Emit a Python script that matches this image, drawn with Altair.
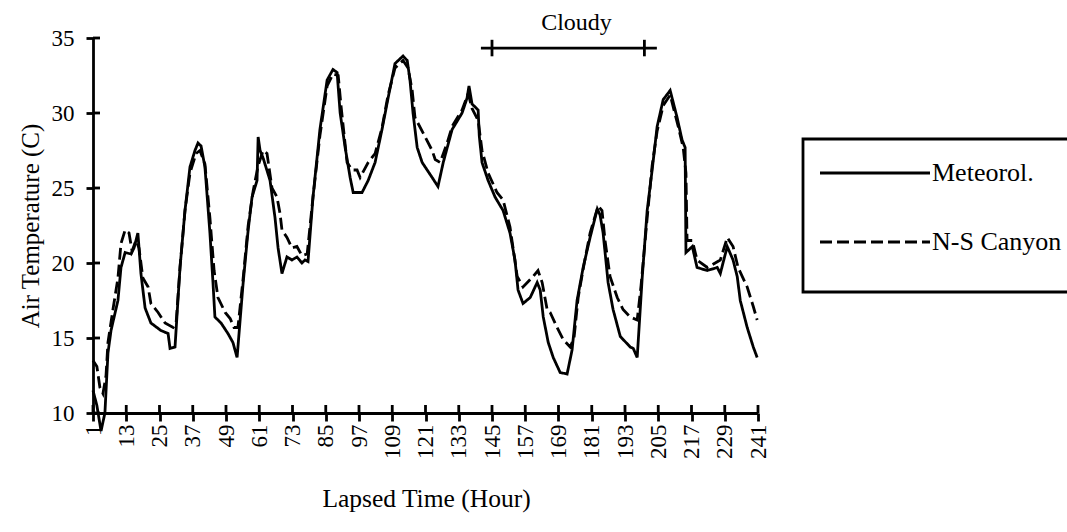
import altair as alt
import pandas as pd

# Series names
series_names = ["Meteorol.", "N-S Canyon"]

# Meteorological station air temperature (C) by lapsed hour
met_hours = [1, 2.4, 3.9, 5.3, 6.4, 7.5, 10, 11.1, 12.6, 14.7,
             15.8, 17.2, 18.3, 19.8, 21.9, 25.5, 28.1, 28.8, 30.6, 32.4,
             34.2, 36, 37.8, 38.9, 40, 41.4, 43.2, 44.3, 45, 47.2,
             49.7, 51.5, 53, 55.2, 57, 58.4, 60.2, 60.6, 61.3, 62.4,
             64.9, 66.7, 67.8, 69.2, 71, 72.8, 74.6, 76.4, 77.5, 78.6,
             80.4, 82.9, 85.5, 87.6, 89.1, 90.2, 92, 93.8, 94.9, 98.1,
             100.3, 102.8, 105.3, 107.5, 110, 112.9, 114.4, 115.4, 116.5, 118,
             119.8, 123.4, 125.5, 127.4, 130.6, 134.2, 136, 136.7, 137.8, 140,
             140.4, 141.4, 143.6, 146.1, 149, 151.5, 153.3, 154.4, 156.2, 158.8,
             161.3, 162.4, 163.5, 165.3, 167.1, 169.6, 172.1, 173.9, 175.7, 177.9,
             180.4, 183, 184, 185.1, 186.9, 188.7, 191.3, 194.9, 196, 197.4,
             199.2, 201, 202.8, 204.6, 206.8, 209.3, 211.8, 213.6, 214.7, 215,
             217.3, 219, 222.7, 226.3, 227.4, 229.9, 232, 233.5, 234.6, 237.1,
             239.3, 240.7]
met_temp = [11.5, 10.5, 8.8, 10.0, 14.0, 15.5, 17.5, 19.7, 20.7, 20.6,
            21.0, 22.0, 19.3, 17.0, 16.0, 15.5, 15.3, 14.3, 14.4, 19.7,
            23.5, 26.4, 27.5, 28.0, 27.8, 26.4, 22.0, 18.7, 16.4, 16.0,
            15.3, 14.7, 13.7, 18.7, 22.2, 24.4, 25.5, 28.4, 27.5, 27.0,
            25.5, 23.0, 21.0, 19.3, 20.4, 20.2, 20.4, 20.0, 20.2, 20.1,
            24.4, 28.9, 32.2, 32.9, 32.7, 30.0, 27.7, 25.7, 24.7, 24.7,
            25.5, 26.7, 28.9, 31.0, 33.3, 33.8, 33.5, 32.2, 30.0, 27.7,
            26.7, 25.7, 25.1, 26.7, 28.9, 30.0, 31.0, 31.8, 30.6, 30.2,
            28.5, 26.7, 25.5, 24.4, 23.5, 22.0, 20.2, 18.2, 17.3, 17.7,
            18.7, 18.2, 16.4, 14.7, 13.7, 12.7, 12.6, 14.2, 17.5, 19.7,
            21.7, 23.6, 23.2, 22.0, 18.7, 16.9, 15.1, 14.4, 14.3, 13.7,
            19.0, 23.5, 26.2, 29.1, 30.9, 31.5, 29.7, 28.2, 27.7, 20.7,
            21.1, 19.7, 19.5, 19.7, 19.3, 21.1, 20.2, 19.1, 17.5, 15.7,
            14.4, 13.7]

# N-S canyon air temperature (C) by lapsed hour
ns_hours = [1, 2.4, 3.5, 4.6, 5.7, 6.4, 8.2, 10, 11.1, 12.6,
            14, 15.1, 16.5, 17.6, 19, 20.9, 21.9, 24.5, 27, 29.9,
            31, 32.4, 34.2, 36, 38.2, 39.6, 41.4, 43.2, 44.7, 46.1,
            48.7, 50.5, 51.9, 53.3, 55.2, 57, 58.8, 60.6, 62.4, 63.8,
            65.6, 67.4, 68.5, 69.2, 71, 72.8, 74.6, 76.4, 78.3, 80.4,
            82.9, 85.5, 87.6, 89.5, 90.5, 92.7, 94.5, 96.3, 97.4, 100.3,
            102.8, 105.3, 107.5, 110, 112.9, 114.7, 116.2, 117.2, 120.9, 123.4,
            124.5, 126.3, 128.8, 130.6, 134.2, 136.4, 137.8, 140, 141.4, 143.6,
            146.8, 149, 151.5, 154.1, 156.2, 159.8, 161.6, 163.1, 164.9, 166,
            168.5, 170.7, 173.2, 174.6, 176.1, 178.3, 180.4, 183.3, 184.7, 185.8,
            187.6, 190.2, 192.3, 194.9, 197.4, 198.8, 201, 202.8, 204.6, 206.8,
            209.3, 212.2, 214, 215, 215.4, 217.3, 219, 222.7, 227.4, 229.9,
            232, 233.8, 237.1, 239.3, 240.7]
ns_temp = [13.5, 13.1, 11.7, 11.3, 12.5, 14.7, 16.9, 19.0, 21.3, 22.2,
           22.0, 20.8, 21.5, 21.0, 19.0, 18.4, 17.3, 16.7, 16.0, 15.7,
           16.0, 19.7, 23.5, 26.0, 27.3, 27.5, 26.6, 23.0, 19.5, 17.7,
           16.7, 16.3, 15.7, 15.7, 19.0, 22.5, 24.8, 26.5, 27.5, 27.3,
           25.0, 24.4, 23.3, 22.2, 21.7, 21.0, 21.1, 20.5, 20.6, 24.4,
           28.5, 31.8, 32.6, 32.5, 30.5, 26.7, 26.2, 26.2, 25.7, 26.7,
           27.3, 29.0, 31.2, 33.0, 33.5, 33.0, 31.5, 29.7, 28.4, 27.5,
           26.9, 26.7, 28.0, 29.1, 30.2, 31.3, 30.3, 29.5, 27.5, 26.0,
           24.7, 24.2, 22.4, 19.1, 18.4, 19.1, 19.5, 18.7, 16.9, 16.7,
           15.7, 14.9, 14.4, 15.0, 17.7, 20.0, 22.0, 23.8, 23.5, 21.5,
           19.1, 17.7, 16.9, 16.4, 16.2, 18.5, 23.0, 26.5, 28.8, 30.5,
           31.2, 29.1, 27.7, 26.0, 21.5, 21.5, 20.2, 19.7, 20.2, 21.7,
           21.1, 19.7, 18.4, 17.1, 16.2]

# Axis tick values
x_ticks = list(range(1, 242, 12))
y_ticks = [10, 15, 20, 25, 30, 35]

# Cloudy period marker (hours)
cloudy_label = "Cloudy"
cloudy_ticks = [145, 200]
cloudy_bar = [141, 204.5]
cloudy_level = 34.33

FONT = "Liberation Serif"
W, H = 665, 375
LW = 2.8

df = pd.concat([
    pd.DataFrame({"hour": met_hours, "temp": met_temp, "series": series_names[0]}),
    pd.DataFrame({"hour": ns_hours, "temp": ns_temp, "series": series_names[1]}),
])

x_scale = alt.Scale(domain=[1, 241], nice=False, zero=False)
y_scale = alt.Scale(domain=[10, 35], nice=False, zero=False)
dash_scale = alt.Scale(domain=series_names, range=[[1, 0], [12, 5]])

x_axis = alt.Axis(
    values=x_ticks, title="Lapsed Time (Hour)", labelAngle=270,
    labelAlign="right", labelBaseline="middle", labelPadding=3,
    tickSize=8, labelOverlap=False, labelFlush=False,
    labelFont=FONT, titleFont=FONT, titleFontSize=25.5,
    titleX=333, titleY=85, titleAlign="center", titleBaseline="middle")
y_axis = alt.Axis(
    values=y_ticks, title="Air Temperature (C)", labelPadding=12,
    tickSize=7, labelFlush=False,
    labelFont=FONT, titleFont=FONT, titleFontSize=25,
    titleAngle=270, titleX=-63, titleY=H / 2,
    titleAlign="center", titleBaseline="middle")

lines = alt.Chart(df).mark_line(color="black", strokeWidth=LW, clip=False).encode(
    x=alt.X("hour:Q", scale=x_scale, axis=x_axis),
    y=alt.Y("temp:Q", scale=y_scale, axis=y_axis),
    strokeDash=alt.StrokeDash("series:N", scale=dash_scale, legend=None),
    detail="series:N",
)

# inner halves of the crossing tick marks
x_tick_in = alt.Chart(pd.DataFrame({"hour": x_ticks})).mark_rule(
    color="black", strokeWidth=LW).encode(
    x=alt.X("hour:Q", scale=x_scale, axis=x_axis),
    y=alt.value(H - 8), y2=alt.value(H))
y_tick_in = alt.Chart(pd.DataFrame({"temp": y_ticks})).mark_rule(
    color="black", strokeWidth=LW).encode(
    y=alt.Y("temp:Q", scale=y_scale, axis=y_axis),
    x=alt.value(0), x2=alt.value(7))

# cloudy period bar with end ticks and label
one = pd.DataFrame({"a": [0]})
cloud_bar = alt.Chart(pd.DataFrame({"hour": [cloudy_bar[0]], "hour2": [cloudy_bar[1]],
                                    "temp": [cloudy_level]})).mark_rule(
    color="black", strokeWidth=LW).encode(
    x=alt.X("hour:Q", scale=x_scale, axis=x_axis),
    x2="hour2:Q",
    y=alt.Y("temp:Q", scale=y_scale, axis=y_axis))
cloud_ticks = alt.Chart(pd.DataFrame({"hour": cloudy_ticks,
                                      "top": [cloudy_level + 0.55] * 2,
                                      "bottom": [cloudy_level - 0.55] * 2})).mark_rule(
    color="black", strokeWidth=LW).encode(
    x=alt.X("hour:Q", scale=x_scale, axis=x_axis),
    y=alt.Y("top:Q", scale=y_scale, axis=y_axis),
    y2="bottom:Q")
cloud_text = alt.Chart(pd.DataFrame({"hour": [(cloudy_ticks[0] + cloudy_ticks[1]) / 2 + 3],
                                     "label": [cloudy_label]})).mark_text(
    font=FONT, fontSize=24, color="black", align="center", baseline="alphabetic"
).encode(
    x=alt.X("hour:Q", scale=x_scale, axis=x_axis),
    y=alt.value(-8), text="label:N")

# legend box
legend_box = alt.Chart(one).mark_rect(
    fillOpacity=0, stroke="black", strokeWidth=LW).encode(
    x=alt.value(710), x2=alt.value(1010), y=alt.value(101), y2=alt.value(254))
legend_layers = []
for i, name in enumerate(series_names):
    ypix = 135 + 69 * i
    legend_layers.append(
        alt.Chart(one).mark_rule(color="black", strokeWidth=LW,
                                 strokeDash=[1, 0] if i == 0 else [12, 5]).encode(
            x=alt.value(727), x2=alt.value(837), y=alt.value(ypix)))
    legend_layers.append(
        alt.Chart(one).mark_text(font=FONT, fontSize=26, color="black",
                                 align="left", baseline="middle").encode(
            x=alt.value(839), y=alt.value(ypix), text=alt.value(name)))

chart = alt.layer(
    lines, x_tick_in, y_tick_in, cloud_bar, cloud_ticks, cloud_text,
    legend_box, *legend_layers
).properties(
    width=W, height=H,
    autosize=alt.AutoSizeParams(type="none"),
    padding={"left": 93, "top": 38, "right": 309, "bottom": 119},
).configure_view(stroke=None).configure_axis(
    grid=False, domainColor="black", domainWidth=LW, tickColor="black",
    tickWidth=LW, labelFont=FONT, labelFontSize=23, labelColor="black",
    titleFont=FONT, titleFontWeight="normal", titleColor="black",
).configure_text(font=FONT)

chart.save("out.html", embed_options={"renderer": "svg", "actions": False})
